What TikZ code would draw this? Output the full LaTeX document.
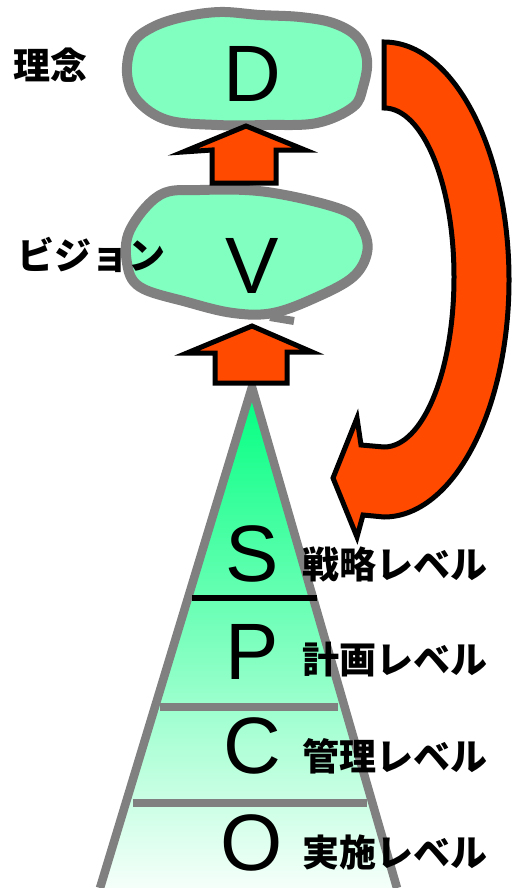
\documentclass[tikz,border=0pt]{standalone}
\usepackage{fontspec}
\setmainfont{Liberation Sans}
\newfontfamily\jpfont{Noto Sans CJK JP}
\usetikzlibrary{positioning}
\definecolor{dvmint}{HTML}{80FFC0}
\definecolor{dvgray}{HTML}{808080}
\definecolor{dvred}{HTML}{FF4A00}
\definecolor{dvtop}{HTML}{00FF80}
\definecolor{dvbot}{HTML}{F5FFFA}
\tikzset{
  blob/.style={draw=dvgray, fill=dvmint, line width=10pt, line join=round},
  blockarr/.style={draw=black, fill=dvred, line width=5pt, line join=miter},
  lvl/.style={draw=dvgray, line width=8.5pt},
  letter/.style={inner sep=0pt, font=\fontsize{80}{80}\selectfont},
  lbl/.style={inner sep=0pt, anchor=west, font=\jpfont\bfseries\fontsize{37}{37}\selectfont},
}

\begin{document}
\begin{tikzpicture}[x=1pt, y=-1pt]
    \useasboundingbox (0,0) rectangle (512,888);
    % pyramid of levels
    \shade[top color=dvtop, bottom color=dvbot] (252,387) -- (100,888) -- (397,888) -- cycle;
    \draw[lvl, line join=miter] (100,888) -- (252,387) -- (397,888);
    \draw[line width=6pt] (192,598) -- (317,598);
    \draw[lvl] (160,707) -- (338,707);
    \draw[lvl] (133,803) -- (367,803);
    % clouds
    \draw[blob] plot[smooth cycle, tension=0.6] coordinates {(183,17) (220,12) (260,15) (300,17) (333,23) (357,37) (367,60) (363,87) (353,107) (317,123) (267,125) (217,125) (167,120) (137,100) (127,73) (133,43) (153,27)};
    \draw[blob] plot[smooth cycle, tension=0.6] coordinates {(160,195) (200,190) (267,192) (343,210) (363,230) (367,253) (353,277) (317,297) (273,313) (233,313) (187,302) (140,287) (127,263) (130,230)};
    \draw[dvgray, line width=8pt] (270,317) -- (294,321);
    % block arrows
    \draw[blockarr] (246,126) -- (305,150) -- (276,150) -- (276,183) -- (212,183) -- (212,150) -- (183,152) -- cycle;
    \draw[blockarr] (252,326) -- (312,352) -- (287,352) -- (287,383) -- (215,383) -- (215,353) -- (187,353) -- cycle;
    \draw[blockarr] (384,42) .. controls (453,42) and (509,149) .. (509,280)
      .. controls (509,411) and (453,517) .. (384,517)
      -- (363,515) -- (357,537) -- (333,478) -- (357,418) -- (361,445) -- (384,447)
      .. controls (423,447) and (454,371) .. (454,277)
      .. controls (454,184) and (423,108) .. (384,108) -- cycle;
    % letters
    \node[letter] (d) at (252,74) {D};
    \node[letter] (v) at (252,266) {V};
    \node[letter] (s) at (252,554) {S};
    \node[letter] (p) at (252,652) {P};
    \node[letter] (c) at (252,746) {C};
    \node[letter] (o) at (252,843) {O};
    % labels
    \node[lbl] (rinen) at (13,65) {理念};
    \node[lbl] (vision) at (17,255) {ビジョン};
    \node[lbl] (strat) at (302,564) {戦略レベル};
    \node[lbl] (plan) at (302,660) {計画レベル};
    \node[lbl] (mgmt) at (302,756) {管理レベル};
    \node[lbl] (exec) at (302,852) {実施レベル};
\end{tikzpicture}
\end{document}
